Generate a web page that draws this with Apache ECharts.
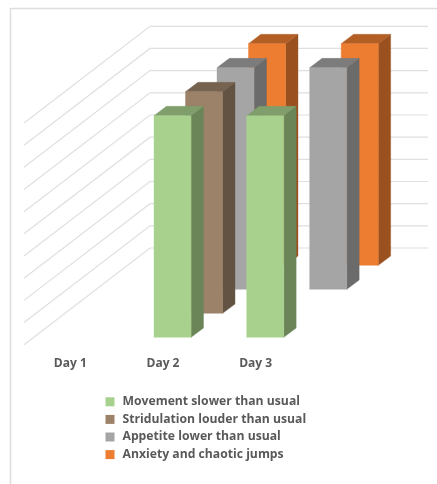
<!DOCTYPE html>
<html>
<head>
<meta charset="utf-8">
<style>html,body{margin:0;padding:0;background:#fff}#chart{width:437px;height:484px}</style>
<script src="https://cdn.jsdelivr.net/npm/echarts@6/dist/echarts.min.js"></script>
</head>
<body>
<div id="chart"></div>
<script>
// Daily observations; empty days stay null and draw nothing.
const days = ['Day 1', 'Day 2', 'Day 3'];
const seriesNames = [
  'Movement slower than usual',
  'Stridulation louder than usual',
  'Appetite lower than usual',
  'Anxiety and chaotic jumps'
];
const movement = [null, 10, 10];
const stridulation = [null, 10, null];
const appetite = [null, 10, 10];
const anxiety = [null, 10, 10];
const gridTicks = [0, 1, 2, 3, 4, 5, 6, 7, 8, 9, 10];

const seriesValues = [movement, stridulation, appetite, anxiety];
const palette = [
  { front: '#A9D18E', side: '#6B8559', top: '#7F9E6B' },
  { front: '#9C8269', side: '#635342', top: '#76634F' },
  { front: '#A5A5A5', side: '#6B6B6B', top: '#7C7C7C' },
  { front: '#ED7D31', side: '#9A501F', top: '#B25E25' }
];

// Oblique projection: each series sits one slot deeper in the scene.
const SLOT_DX = 31.5, SLOT_DY = 24;
const BAR_DX = 12.4, BAR_DY = 9.3;
const WALL_DX = 126, WALL_DY = 96.7;
const BAR_WIDTH_RATIO = 0.4;

function renderWallLine(params, api) {
  const band = api.size([1, 0])[0];
  const v = api.value(0);
  const p = api.coord([0, v]);
  const left = p[0] - band / 2;
  const pts = [
    [left, p[1]],
    [left + WALL_DX, p[1] - WALL_DY],
    [left + WALL_DX + band * days.length, p[1] - WALL_DY]
  ];
  return {
    type: 'polyline',
    shape: { points: pts },
    style: { stroke: '#E0E0E0', lineWidth: 1.2, fill: 'none' },
    silent: true
  };
}

function barRenderer(slot) {
  const colors = palette[slot];
  return function (params, api) {
    const base = api.coord([api.value(0), 0]);
    const head = api.coord([api.value(0), api.value(1)]);
    const w = api.size([1, 0])[0] * BAR_WIDTH_RATIO;
    const ox = SLOT_DX * slot + (SLOT_DX - BAR_DX) / 2;
    const oy = SLOT_DY * slot + (SLOT_DY - BAR_DY) / 2;
    const x0 = base[0] + ox - w / 2, x1 = x0 + w;
    const yb = base[1] - oy, yt = head[1] - oy;
    const poly = (points, fill) => ({
      type: 'polygon', shape: { points }, style: { fill, stroke: fill, lineWidth: 0.4 }
    });
    return {
      type: 'group',
      children: [
        poly([[x1, yb], [x1 + BAR_DX, yb - BAR_DY], [x1 + BAR_DX, yt - BAR_DY], [x1, yt]], colors.side),
        poly([[x0, yt], [x1, yt], [x1 + BAR_DX, yt - BAR_DY], [x0 + BAR_DX, yt - BAR_DY]], colors.top),
        poly([[x0, yb], [x1, yb], [x1, yt], [x0, yt]], colors.front)
      ]
    };
  };
}

const barSeries = seriesNames.map((name, slot) => ({
  name,
  type: 'custom',
  coordinateSystem: 'cartesian2d',
  renderItem: barRenderer(slot),
  itemStyle: { color: palette[slot].front },
  encode: { x: 0, y: 1 },
  clip: false,
  z: 10 - slot,
  data: seriesValues[slot]
    .map((v, i) => [i, v])
    .filter(d => d[1] !== null)
}));

const chart = echarts.init(document.getElementById('chart'), null, { renderer: 'canvas' });
chart.setOption({
  animation: false,
  backgroundColor: '#FFFFFF',
  textStyle: { fontFamily: '"Open Sans", sans-serif' },
  grid: { left: 24, right: 135, top: 123, height: 221.7 },
  xAxis: {
    type: 'category',
    data: days,
    axisLine: { show: false },
    axisTick: { show: false },
    axisLabel: { color: '#595959', fontSize: 12, fontWeight: 'bold', margin: 13 }
  },
  yAxis: { type: 'value', min: 0, max: 10, interval: 1, show: false },
  legend: {
    orient: 'vertical',
    left: 105.5,
    top: 393,
    padding: 0,
    icon: 'rect',
    itemWidth: 9,
    itemHeight: 9,
    itemGap: 0,
    selectedMode: false,
    data: seriesNames,
    textStyle: {
      color: '#595959', fontSize: 12.2, fontWeight: 'bold', padding: [0, 0, 0, 3],
      height: 17.6, lineHeight: 17.6
    }
  },
  graphic: [{
    type: 'rect',
    silent: true,
    shape: { x: 10.5, y: 8.5, width: 600, height: 700 },
    style: { fill: 'none', stroke: '#DEDEDE', lineWidth: 1.5 }
  }],
  series: [{
    name: 'walls',
    type: 'custom',
    coordinateSystem: 'cartesian2d',
    renderItem: renderWallLine,
    encode: { y: 0 },
    clip: false,
    z: 1,
    silent: true,
    data: gridTicks.map(v => [v])
  }].concat(barSeries)
});
</script>
</body>
</html>
